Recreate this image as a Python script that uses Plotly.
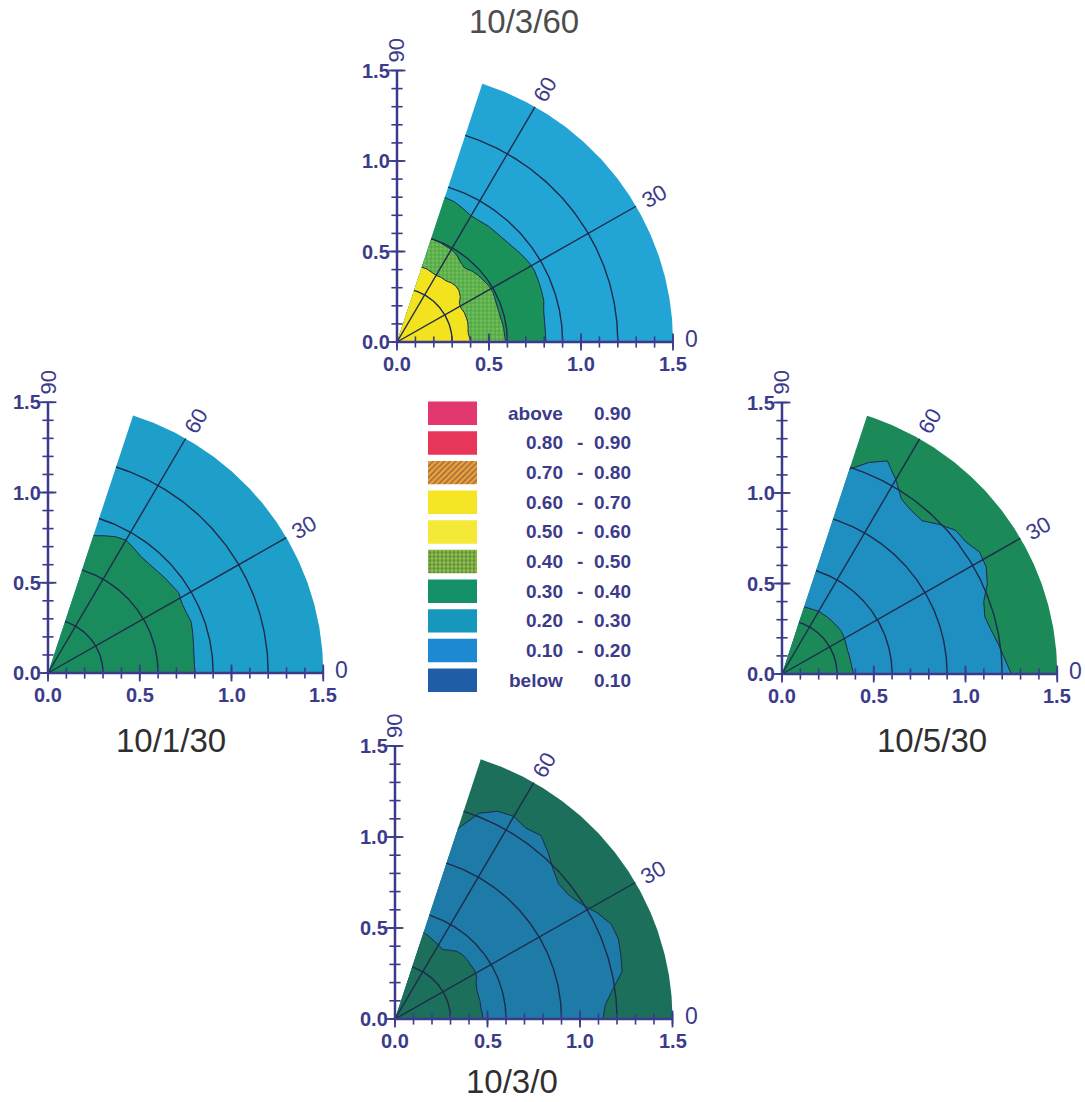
import numpy as np
import plotly.graph_objects as go

W, H = 1085, 1102

# ---------------- data ----------------
ANGLES = [0, 4, 8, 12, 16, 20, 24, 28, 32, 36, 40, 44, 48, 52, 56, 60, 64, 68, 72]
R_MAX = 1.5

# 10/3/60 (top)
TOP_GREEN_R = [0.81, 0.81, 0.81, 0.815, 0.83, 0.835, 0.84, 0.845, 0.84, 0.83, 0.82, 0.815, 0.81, 0.81, 0.805, 0.805, 0.82, 0.835, 0.84]
TOP_DOT_R = [0.59, 0.588, 0.585, 0.58, 0.578, 0.576, 0.58, 0.59, 0.588, 0.58, 0.575, 0.565, 0.55, 0.56, 0.58, 0.59, 0.595, 0.60, 0.60]
TOP_YELLOW_R = [0.40, 0.395, 0.39, 0.395, 0.40, 0.40, 0.40, 0.395, 0.40, 0.425, 0.44, 0.445, 0.44, 0.43, 0.43, 0.425, 0.43, 0.435, 0.435]
# 10/1/30 (left)
LEFT_GREEN_R = [0.80, 0.80, 0.805, 0.81, 0.82, 0.83, 0.825, 0.826, 0.84, 0.83, 0.826, 0.82, 0.82, 0.82, 0.835, 0.85, 0.84, 0.82, 0.80]
# 10/5/30 (right)
RIGHT_BLUE_R = [1.25, 1.215, 1.19, 1.165, 1.15, 1.17, 1.225, 1.26, 1.27, 1.24, 1.235, 1.19, 1.14, 1.145, 1.165, 1.24, 1.31, 1.26, 1.19]
RIGHT_GREEN_R = [0.39, 0.385, 0.38, 0.38, 0.38, 0.38, 0.385, 0.39, 0.395, 0.40, 0.40, 0.40, 0.40, 0.40, 0.40, 0.40, 0.395, 0.39, 0.39]
# 10/3/0 (bottom)
BOTTOM_BLUE_R = [1.124, 1.14, 1.19, 1.255, 1.27, 1.285, 1.28, 1.24, 1.19, 1.16, 1.155, 1.187, 1.235, 1.28, 1.265, 1.285, 1.27, 1.22, 1.10]
BOTTOM_GREEN_R = [0.478, 0.47, 0.468, 0.47, 0.47, 0.47, 0.48, 0.50, 0.506, 0.507, 0.508, 0.508, 0.50, 0.48, 0.46, 0.47, 0.48, 0.49, 0.50]

TITLES = ["10/3/60", "10/1/30", "10/5/30", "10/3/0"]
AXIS_TICKS = [0.0, 0.5, 1.0, 1.5]
AXIS_TICK_TEXT = ["0.0", "0.5", "1.0", "1.5"]
MINOR_STEP = 0.1
ANGLE_TICKS = [0, 30, 60, 90]
GRID_RADII = [0.3, 0.6, 0.9, 1.2]
GRID_SPOKES = [30, 60]

LEGEND_LOW = ["above", "0.80", "0.70", "0.60", "0.50", "0.40", "0.30", "0.20", "0.10", "below"]
LEGEND_HIGH = ["0.90", "0.90", "0.80", "0.70", "0.60", "0.50", "0.40", "0.30", "0.20", "0.10"]

# ---------------- style ----------------
NAVY = "#3C3B8B"
GRID = "#1E2B4A"
FONT = "Liberation Sans, Arial, sans-serif"
DOTS = dict(shape=".", fgcolor="#A6D266", size=4, solidity=0.45)

LEGEND_COLORS = ["#E3386F", "#E8365A", "#F4A03A", "#F6E524", "#F4E936",
                 "#86C242", "#14906B", "#1897BD", "#1D89D3", "#1F5EA7"]
LEGEND_SHAPES = ["", "", "/", "", "", ".", "", "", "", ""]
LEGEND_FG = ["#000000", "#000000", "#E2482F", "#000000", "#000000",
             "#2C9447", "#000000", "#000000", "#000000", "#000000"]

PANELS = [
    dict(ox=397, oy=342, sx=184, sy=181, tx=524, ty=21, tcolor="#4d4d4d",
         layers=[(None, "#22A5D5", None), (TOP_GREEN_R, "#1A9159", None),
                 (TOP_DOT_R, "#4EAA4A", DOTS), (TOP_YELLOW_R, "#F2E31E", None)]),
    dict(ox=48, oy=673, sx=183.5, sy=180.5, tx=171, ty=740, tcolor="#2f2f2f",
         layers=[(None, "#1E9FCA", None), (LEFT_GREEN_R, "#1A8B5D", None)]),
    dict(ox=782, oy=674, sx=183.5, sy=181, tx=932, ty=740, tcolor="#2f2f2f",
         layers=[(None, "#1B8958", None), (RIGHT_BLUE_R, "#1F8FC1", None),
                 (RIGHT_GREEN_R, "#1B8958", None)]),
    dict(ox=395, oy=1019, sx=185, sy=182, tx=512, ty=1081, tcolor="#2f2f2f",
         layers=[(None, "#1C6F5B", None), (BOTTOM_BLUE_R, "#1E7AA7", None),
                 (BOTTOM_GREEN_R, "#1C6F5B", None)]),
]
XR = [-0.12, 1.64]
YR = [-0.12, 1.72]

fig = go.Figure()
theta_fine = np.radians(np.linspace(0, ANGLES[-1], 145))
theta_data = np.radians(ANGLES)
minor_ticks = np.round(np.arange(0, R_MAX + 1e-9, MINOR_STEP), 2)
annotations = []
layout_axes = {}

for i, p in enumerate(PANELS, start=1):
    xa = "x" if i == 1 else f"x{i}"
    ya = "y" if i == 1 else f"y{i}"
    common = dict(xaxis=xa, yaxis=ya, showlegend=False, hoverinfo="skip")

    # filled regions
    for radii, color, pat in p["layers"]:
        if radii is None:
            th = theta_fine
            r = np.full_like(th, R_MAX)
        else:
            th = theta_data
            r = np.array(radii)
        x = np.concatenate([[0], r * np.cos(th), [0]])
        y = np.concatenate([[0], r * np.sin(th), [0]])
        kw = dict(fillpattern=pat) if pat else {}
        fig.add_trace(go.Scatter(x=x, y=y, mode="lines", fill="toself", fillcolor=color,
                                 line=dict(width=0), **kw, **common))
    # contour boundary lines
    for radii, color, pat in p["layers"][1:]:
        r = np.array(radii)
        fig.add_trace(go.Scatter(x=r * np.cos(theta_data), y=r * np.sin(theta_data), mode="lines",
                                 line=dict(color=GRID, width=1), **common))
    # polar grid
    for rg in GRID_RADII:
        fig.add_trace(go.Scatter(x=rg * np.cos(theta_fine), y=rg * np.sin(theta_fine), mode="lines",
                                 line=dict(color=GRID, width=1.4), **common))
    for a in GRID_SPOKES:
        ar = np.radians(a)
        fig.add_trace(go.Scatter(x=[0, R_MAX * np.cos(ar)], y=[0, R_MAX * np.sin(ar)], mode="lines",
                                 line=dict(color=GRID, width=1.4), **common))
    # axis lines
    fig.add_trace(go.Scatter(x=[0, R_MAX], y=[0, 0], mode="lines", line=dict(color=NAVY, width=2.5), **common))
    fig.add_trace(go.Scatter(x=[0, 0], y=[0, R_MAX], mode="lines", line=dict(color=NAVY, width=2.5), **common))
    # crossing ticks
    zeros = np.zeros_like(minor_ticks)
    fig.add_trace(go.Scatter(x=minor_ticks, y=zeros, mode="markers", cliponaxis=False,
                             marker=dict(symbol="line-ns", size=8, line=dict(width=1.6, color=NAVY)), **common))
    fig.add_trace(go.Scatter(x=zeros, y=minor_ticks, mode="markers", cliponaxis=False,
                             marker=dict(symbol="line-ew", size=8, line=dict(width=1.6, color=NAVY)), **common))
    zt = np.zeros(len(AXIS_TICKS))
    fig.add_trace(go.Scatter(x=AXIS_TICKS, y=zt, mode="markers", cliponaxis=False,
                             marker=dict(symbol="line-ns", size=12, line=dict(width=1.8, color=NAVY)), **common))
    fig.add_trace(go.Scatter(x=zt, y=AXIS_TICKS, mode="markers", cliponaxis=False,
                             marker=dict(symbol="line-ew", size=12, line=dict(width=1.8, color=NAVY)), **common))

    tickfont = dict(family=FONT, size=20, color=NAVY, weight="bold")
    for v, t in zip(AXIS_TICKS, AXIS_TICK_TEXT):
        annotations.append(dict(x=v, y=0, xref=xa, yref=ya, text=t, showarrow=False, borderpad=0,
                                xanchor="center", yanchor="top", yshift=-10, font=tickfont))
        annotations.append(dict(x=0, y=v, xref=xa, yref=ya, text=t, showarrow=False, borderpad=0,
                                xanchor="right", yanchor="middle", xshift=-6, font=tickfont))
    for a in ANGLE_TICKS:
        rl = 1.6 if a == 0 else 1.61
        ar = np.radians(a)
        annotations.append(dict(x=rl * np.cos(ar), y=rl * np.sin(ar), xref=xa, yref=ya, text=str(a),
                                showarrow=False, textangle=-a, xanchor="center", yanchor="middle",
                                borderpad=0, yshift=3 if a == 0 else 0,
                                font=dict(family=FONT, size=22 if a else 23, color=NAVY)))
    annotations.append(dict(x=p["tx"] / W, y=1 - p["ty"] / H, xref="paper", yref="paper",
                            text=TITLES[i - 1], showarrow=False, xanchor="center", yanchor="middle",
                            font=dict(family=FONT, size=33, color=p["tcolor"])))

    ox, oy, sx, sy = p["ox"], p["oy"], p["sx"], p["sy"]
    xkey = "xaxis" if i == 1 else f"xaxis{i}"
    ykey = "yaxis" if i == 1 else f"yaxis{i}"
    layout_axes[xkey] = dict(domain=[(ox + XR[0] * sx) / W, (ox + XR[1] * sx) / W], range=XR,
                             visible=False, anchor=ya, fixedrange=True)
    layout_axes[ykey] = dict(domain=[1 - (oy - YR[0] * sy) / H, 1 - (oy - YR[1] * sy) / H], range=YR,
                             visible=False, anchor=xa, fixedrange=True)

# ---------------- legend ----------------
LEGEND_KEYS = [f"{lo} {hi}" for lo, hi in zip(LEGEND_LOW, LEGEND_HIGH)]
fig.add_trace(go.Bar(x=[1] * len(LEGEND_KEYS), y=LEGEND_KEYS, orientation="h", width=0.79,
                     marker=dict(color=LEGEND_COLORS, line=dict(width=0),
                                 pattern=dict(shape=LEGEND_SHAPES, fgcolor=LEGEND_FG, size=4, solidity=0.45)),
                     xaxis="x5", yaxis="y5", showlegend=False, hoverinfo="skip"))
layout_axes["xaxis5"] = dict(domain=[428 / W, 477 / W], range=[0, 1], visible=False, anchor="y5", fixedrange=True)
layout_axes["yaxis5"] = dict(domain=[1 - 695 / H, 1 - 398.5 / H], type="category",
                             categoryorder="array", categoryarray=LEGEND_KEYS,
                             range=[len(LEGEND_KEYS) - 0.5, -0.5], visible=False, anchor="x5", fixedrange=True)
legfont = dict(family=FONT, size=19, color=NAVY, weight="bold")
for key, lo, hi in zip(LEGEND_KEYS, LEGEND_LOW, LEGEND_HIGH):
    annotations.append(dict(x=565 / W, y=key, xref="paper", yref="y5", text=lo, showarrow=False,
                            xanchor="right", yanchor="middle", font=legfont))
    if lo not in ("above", "below"):
        annotations.append(dict(x=580 / W, y=key, xref="paper", yref="y5", text="-", showarrow=False,
                                xanchor="center", yanchor="middle", font=legfont))
    annotations.append(dict(x=592 / W, y=key, xref="paper", yref="y5", text=hi, showarrow=False,
                            xanchor="left", yanchor="middle", font=legfont))

fig.update_layout(width=W, height=H, margin=dict(l=0, r=0, t=0, b=0),
                  paper_bgcolor="white", plot_bgcolor="rgba(0,0,0,0)",
                  showlegend=False, annotations=annotations, **layout_axes)
fig.write_html("out.html")
